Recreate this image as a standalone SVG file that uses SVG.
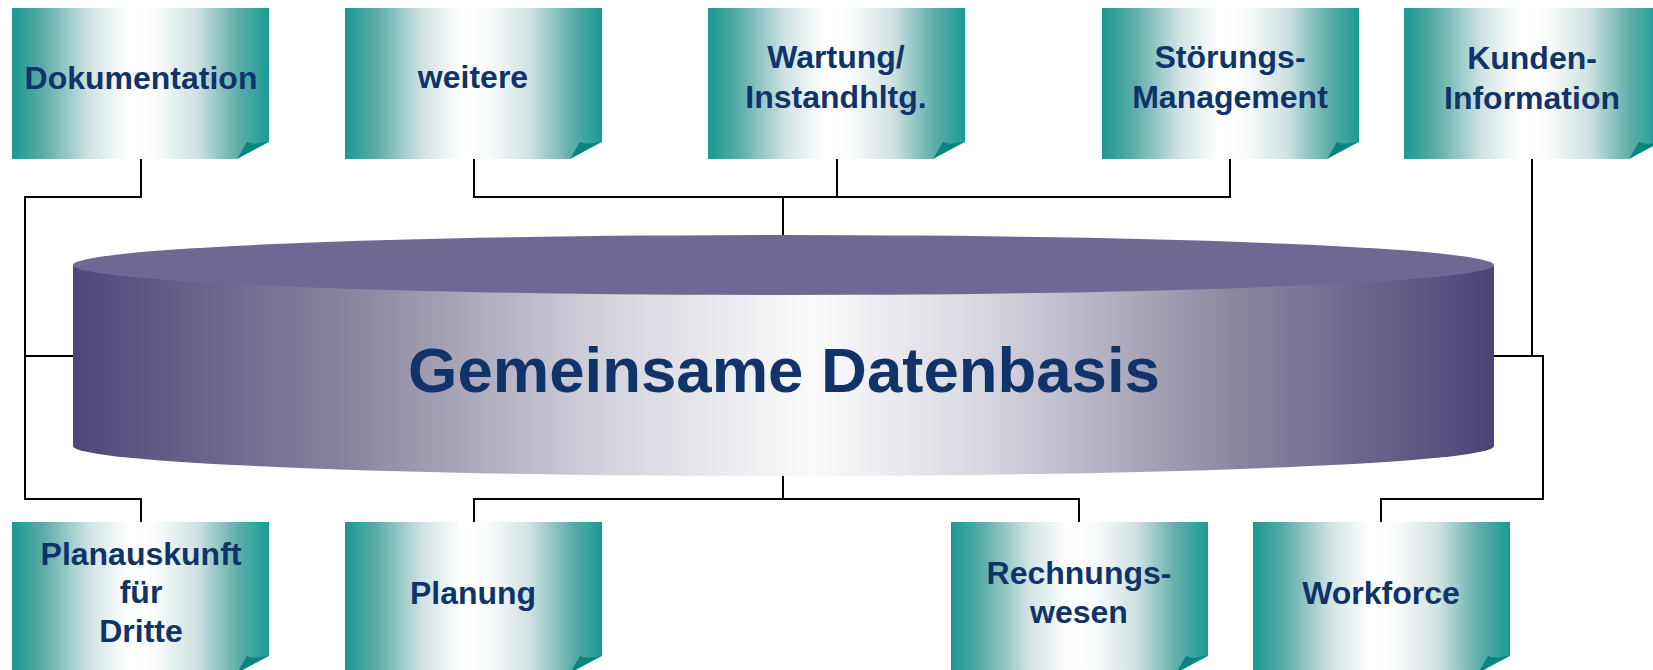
<svg xmlns="http://www.w3.org/2000/svg" xmlns:xlink="http://www.w3.org/1999/xlink" width="1653" height="670" viewBox="0 0 1653 670">
  <style>
    .lbl { font-family: "Liberation Sans", Arial, sans-serif; font-weight: bold; font-size: 32px; fill: #10336a; text-anchor: middle; }
    .title { font-family: "Liberation Sans", Arial, sans-serif; font-weight: bold; font-size: 63.5px; fill: #10336a; text-anchor: middle; }
    .wire { fill: none; stroke: #000; stroke-width: 2; }
    .fold { fill: #0b837e; }
  </style>
  <defs>
    <linearGradient id="sheetFill" x1="0" y1="0" x2="1" y2="0">
      <stop offset="0" stop-color="#1a9892"/>
      <stop offset="0.12" stop-color="#5aaca8"/>
      <stop offset="0.3" stop-color="#cfe3e2"/>
      <stop offset="0.45" stop-color="#ffffff"/>
      <stop offset="0.55" stop-color="#fbfdfd"/>
      <stop offset="0.72" stop-color="#cfe2e1"/>
      <stop offset="0.88" stop-color="#5eaeaa"/>
      <stop offset="1" stop-color="#1a9a94"/>
    </linearGradient>
    <linearGradient id="drumSide" x1="73" y1="0" x2="1494" y2="0" gradientUnits="userSpaceOnUse">
      <stop offset="0" stop-color="#4f4678"/>
      <stop offset="0.2" stop-color="#8a86a0"/>
      <stop offset="0.38" stop-color="#d6d5de"/>
      <stop offset="0.52" stop-color="#fbfbfc"/>
      <stop offset="0.64" stop-color="#d8d7e0"/>
      <stop offset="0.82" stop-color="#8a86a0"/>
      <stop offset="1" stop-color="#4c4376"/>
    </linearGradient>
    <!-- sheet with dog-eared bottom-right corner -->
    <g id="sheet">
      <path d="M0,0 H257 V134 L225,151 H0 Z" fill="url(#sheetFill)"/>
      <path class="fold" d="M225,151 L235,134 Q243,138 257,133 Z"/>
    </g>
  </defs>

  <!-- connectors -->
  <g id="connectors">
    <path class="wire" d="M141,159 V197 H25 V499 H141 V522"/>
    <path class="wire" d="M25,356 H73"/>
    <path class="wire" d="M474,159 V197 H1230 V159"/>
    <path class="wire" d="M837,159 V197"/>
    <path class="wire" d="M783,197 V235"/>
    <path class="wire" d="M1532,159 V356"/>
    <path class="wire" d="M1494,356 H1543 V499 H1381 V522"/>
    <path class="wire" d="M783,476 V499"/>
    <path class="wire" d="M474,522 V499 H1079 V522"/>
  </g>

  <!-- central database drum -->
  <g id="datenbasis">
    <path d="M73,265 V446 A710.5,30 0 0 0 1494,446 V265 Z" fill="url(#drumSide)"/>
    <ellipse cx="783.5" cy="265" rx="710.5" ry="30" fill="#706893"/>
    <text class="title" x="784" y="392">Gemeinsame Datenbasis</text>
  </g>

  <!-- top row -->
  <g id="dokumentation">
    <use xlink:href="#sheet" transform="translate(12,8)"/>
    <text class="lbl" x="141" y="89">Dokumentation</text>
  </g>
  <g id="weitere">
    <use xlink:href="#sheet" transform="translate(345,8)"/>
    <text class="lbl" x="473" y="88">weitere</text>
  </g>
  <g id="wartung">
    <use xlink:href="#sheet" transform="translate(708,8)"/>
    <text class="lbl" x="836" y="68">Wartung/</text>
    <text class="lbl" x="836" y="108">Instandhltg.</text>
  </g>
  <g id="stoerungen">
    <use xlink:href="#sheet" transform="translate(1102,8)"/>
    <text class="lbl" x="1230" y="68">Störungs-</text>
    <text class="lbl" x="1230" y="108">Management</text>
  </g>
  <g id="kunden">
    <use xlink:href="#sheet" transform="translate(1404,8)"/>
    <text class="lbl" x="1532" y="69">Kunden-</text>
    <text class="lbl" x="1532" y="109">Information</text>
  </g>

  <!-- bottom row -->
  <g id="planauskunft">
    <use xlink:href="#sheet" transform="translate(12,522)"/>
    <text class="lbl" x="141" y="565">Planauskunft</text>
    <text class="lbl" x="141" y="603">für</text>
    <text class="lbl" x="141" y="642">Dritte</text>
  </g>
  <g id="planung">
    <use xlink:href="#sheet" transform="translate(345,522)"/>
    <text class="lbl" x="473" y="604">Planung</text>
  </g>
  <g id="rechnungswesen">
    <use xlink:href="#sheet" transform="translate(951,522)"/>
    <text class="lbl" x="1079" y="584">Rechnungs-</text>
    <text class="lbl" x="1079" y="623">wesen</text>
  </g>
  <g id="workforce">
    <use xlink:href="#sheet" transform="translate(1253,522)"/>
    <text class="lbl" x="1381" y="604">Workforce</text>
  </g>
</svg>
